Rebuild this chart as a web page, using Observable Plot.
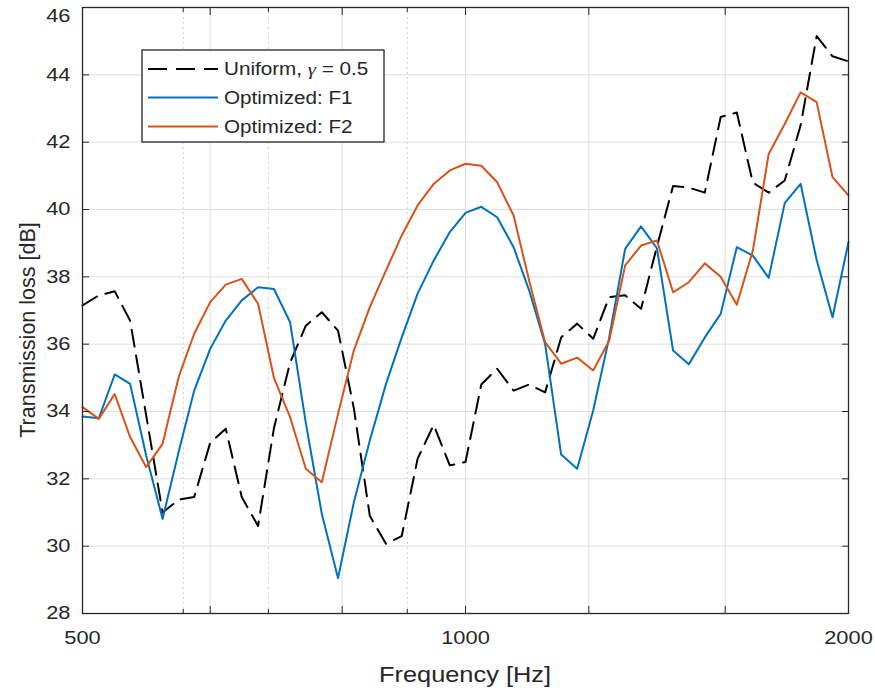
<!DOCTYPE html>
<html><head><meta charset="utf-8">
<script src="https://cdn.jsdelivr.net/npm/d3@7"></script>
<script src="https://cdn.jsdelivr.net/npm/@observablehq/plot@0.6"></script>
<style>
body{margin:0;background:#fff}
#chart{position:relative;width:875px;height:693px}
#chart svg{font-family:"Liberation Sans",Arial,sans-serif}
</style>
</head><body><div id="chart"></div>
<script>
// 1/24-octave frequencies (Hz)
const frequency = [500, 515, 530, 545, 561, 578, 595, 612, 630, 648, 667, 687, 707, 728, 749, 771,
  794, 817, 841, 866, 891, 917, 944, 972, 1000, 1029, 1059, 1091, 1122, 1155, 1189, 1224,
  1260, 1297, 1335, 1374, 1414, 1456, 1498, 1542, 1587, 1634, 1682, 1731, 1782, 1834, 1888, 1943, 2000];

const uniform = [37.15, 37.45, 37.57, 36.7, 33.9, 31.0, 31.38, 31.46, 33.07, 33.49, 31.46, 30.6,
  33.5, 35.45, 36.55, 36.95, 36.4, 34.1, 30.9, 30.07, 30.3, 32.6, 33.6, 32.4, 32.5,
  34.8, 35.27, 34.62, 34.8, 34.57, 36.2, 36.61, 36.16, 37.4, 37.45, 37.05, 38.9,
  40.7, 40.65, 40.5, 42.75, 42.88, 40.8, 40.5, 40.86, 42.5, 45.15, 44.55, 44.4];

const optimizedF1 = [33.85, 33.8, 35.1, 34.82, 32.7, 30.81, 32.8, 34.62, 35.86, 36.7, 37.3, 37.69,
  37.64, 36.65, 33.66, 30.96, 29.05, 31.3, 33.14, 34.82, 36.2, 37.5, 38.48, 39.33, 39.9,
  40.08, 39.77, 38.88, 37.6, 36.0, 32.72, 32.3, 34.03, 36.2, 38.83, 39.5, 38.85,
  35.81, 35.4, 36.2, 36.9, 38.88, 38.63, 37.97, 40.19, 40.76, 38.5, 36.8, 39.03];

const optimizedF2 = [34.13, 33.78, 34.52, 33.24, 32.35, 33.04, 35.02, 36.31, 37.25, 37.77, 37.94, 37.2,
  35.0, 33.83, 32.3, 31.9, 33.93, 35.81, 37.1, 38.19, 39.23, 40.12, 40.76, 41.16, 41.36,
  41.3, 40.81, 39.82, 37.89, 36.06, 35.42, 35.6, 35.22, 36.1, 38.34, 38.93, 39.08,
  37.54, 37.84, 38.4, 38.0, 37.17, 38.78, 41.65, 42.54, 43.48, 43.19, 40.96, 40.42];

const seriesNames = ["Uniform, \u03b3 = 0.5", "Optimized: F1", "Optimized: F2"];
const seriesColors = ["#000000", "#0072BD", "#D95319"];

const xMajorTicks = [500, 630, 800, 1000, 1250, 1600, 2000];
const xMinorTicks = [600, 700, 900];
const xTickLabels = {500: "500", 1000: "1000", 2000: "2000"};
const yTicks = [28, 30, 32, 34, 36, 38, 40, 42, 44, 46];

const xLabel = "Frequency [Hz]";
const yLabel = "Transmission loss [dB]";

const mk = (vals) => vals.map((v, i) => ({f: frequency[i], v}));
const axisColor = "#262626";
const gridColor = "#dfdfdf";
const noText = () => "";

const chart = Plot.plot({
  width: 875, height: 693,
  marginLeft: 82, marginRight: 27, marginTop: 7, marginBottom: 80,
  x: {type: "log", domain: [500, 2000]},
  y: {domain: [28, 46]},
  marks: [
    Plot.ruleX(xMinorTicks, {stroke: "#d0d0d0", strokeDasharray: "2,3"}),
    Plot.ruleX(xMajorTicks.slice(1, -1), {stroke: gridColor}),
    Plot.ruleY(yTicks.slice(1, -1), {stroke: gridColor}),
    Plot.line(mk(uniform), {x: "f", y: "v", stroke: seriesColors[0], strokeWidth: 2, strokeDasharray: "17,9"}),
    Plot.line(mk(optimizedF1), {x: "f", y: "v", stroke: seriesColors[1], strokeWidth: 2}),
    Plot.line(mk(optimizedF2), {x: "f", y: "v", stroke: seriesColors[2], strokeWidth: 2}),
    Plot.frame({stroke: axisColor, strokeWidth: 1.3}),
    Plot.axisX(xMajorTicks, {anchor: "bottom", tickSize: -7, tickFormat: noText, stroke: axisColor, label: null}),
    Plot.axisX(xMajorTicks, {anchor: "top", tickSize: -7, tickFormat: noText, stroke: axisColor, label: null}),
    Plot.axisX(xMinorTicks, {anchor: "bottom", tickSize: -4, tickFormat: noText, stroke: axisColor, label: null}),
    Plot.axisX(xMinorTicks, {anchor: "top", tickSize: -4, tickFormat: noText, stroke: axisColor, label: null}),
    Plot.axisY(yTicks, {anchor: "left", tickSize: -7, tickFormat: noText, stroke: axisColor, label: null}),
    Plot.axisY(yTicks, {anchor: "right", tickSize: -7, tickFormat: noText, stroke: axisColor, label: null}),
    Plot.axisX(Object.keys(xTickLabels).map(Number), {anchor: "bottom", tickSize: 0, tickPadding: 17,
      tickFormat: d => xTickLabels[d], fontSize: 18.5, fill: axisColor, label: null}),
    Plot.axisY(yTicks, {anchor: "left", tickSize: 0, tickPadding: 12, tickFormat: d => String(d),
      fontSize: 18.5, fill: axisColor, label: null})
  ]
});
document.getElementById("chart").appendChild(chart);

const svg = d3.select(chart);
// remove empty tick-label texts
svg.selectAll("text").filter(function() { return this.textContent === ""; }).remove();
// keep the topmost y tick label inside the picture
svg.selectAll("text").filter(function() { return this.textContent === "46"; })
  .attr("dy", "0.44em");

// axis labels
svg.append("text").attr("class", "xlab")
  .attr("x", 465).attr("y", 682).attr("text-anchor", "middle")
  .attr("font-size", 21.5).attr("fill", axisColor).text(xLabel);
svg.append("text").attr("class", "ylab")
  .attr("transform", "translate(35,330) rotate(-90)").attr("text-anchor", "middle")
  .attr("font-size", 21.5).attr("fill", axisColor).text(yLabel);

// legend
const lg = svg.append("g").attr("class", "legend");
lg.append("rect").attr("x", 142).attr("y", 50).attr("width", 242).attr("height", 92)
  .attr("fill", "#fff").attr("stroke", axisColor).attr("stroke-width", 1.3);
const rowY = [69, 97.5, 126.5];
seriesNames.forEach((name, i) => {
  lg.append("line").attr("x1", 148).attr("x2", 218).attr("y1", rowY[i]).attr("y2", rowY[i])
    .attr("stroke", seriesColors[i]).attr("stroke-width", 2)
    .attr("stroke-dasharray", i === 0 ? "19,9" : null);
  const t = lg.append("text").attr("x", 224).attr("y", rowY[i]).attr("dy", "0.36em")
    .attr("text-anchor", "start").attr("font-size", 17.5).attr("fill", axisColor);
  if (i === 0) {
    t.append("tspan").text("Uniform, ");
    t.append("tspan").attr("font-style", "italic").attr("font-family", "Liberation Serif, serif").text("\u03b3");
    t.append("tspan").text(" = 0.5");
  } else t.text(name);
});

// horizontal stretch of horizontal texts to match reference rendering
svg.selectAll("text").each(function() {
  if (this.getAttribute("class") === "ylab") return;
  const len = this.getComputedTextLength();
  if (len > 0) {
    this.setAttribute("textLength", (len * 1.18).toFixed(1));
    this.setAttribute("lengthAdjust", "spacingAndGlyphs");
  }
});
</script>
</body></html>
